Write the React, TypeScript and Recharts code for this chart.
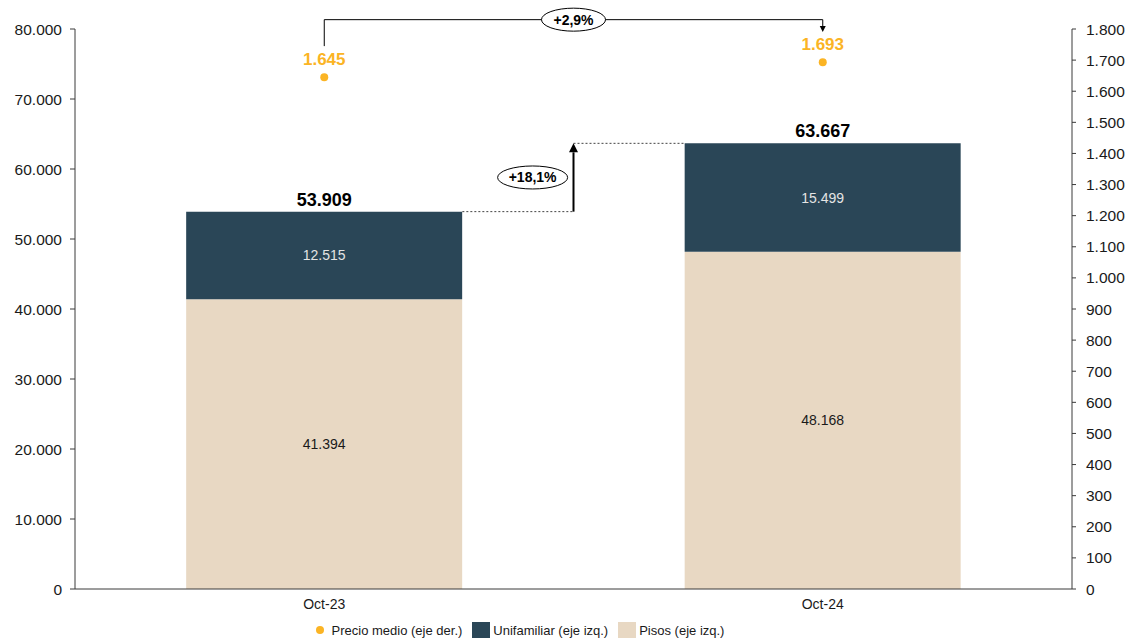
import {
  ComposedChart,
  Bar,
  Line,
  XAxis,
  YAxis,
  LabelList,
  Legend,
  ReferenceLine,
  ReferenceDot,
} from 'recharts';

const periods = ['Oct-23', 'Oct-24'];
const pisos = [41394, 48168];
const unifamiliar = [12515, 15499];
const precioMedio = [1645, 1693];

const leftTicks = [0, 10000, 20000, 30000, 40000, 50000, 60000, 70000, 80000];
const rightTicks = [
  0, 100, 200, 300, 400, 500, 600, 700, 800, 900, 1000, 1100, 1200, 1300, 1400, 1500, 1600, 1700, 1800,
];

const variacionViviendas = '+18,1%';
const variacionPrecio = '+2,9%';

const legendItems = [
  { label: 'Precio medio (eje der.)', kind: 'dot', key: 'precio' },
  { label: 'Unifamiliar (eje izq.)', kind: 'square', key: 'unifamiliar' },
  { label: 'Pisos (eje izq.)', kind: 'square', key: 'pisos' },
];

const data = periods.map((period, i) => ({
  period,
  pisos: pisos[i],
  unifamiliar: unifamiliar[i],
  total: pisos[i] + unifamiliar[i],
  precio: precioMedio[i],
}));

const c = {
  pisos: '#E8D8C3',
  unifamiliar: '#2A4657',
  precio: '#FBB424',
  text: '#1a1a1a',
  axis: '#3a3a3a',
  innerLight: '#E4E4E4',
};

const FONT = '"Liberation Sans", Arial, sans-serif';

// hidden numeric x axis runs 0..1 across the plot; each category takes an equal band
const BAR_FRACTION = 0.554;
const band = 1 / periods.length;
const center = (i: number) => (i + 0.5) * band;
const BAR_EDGE_0 = center(0) + (BAR_FRACTION * band) / 2;
const BAR_EDGE_1 = center(1) - (BAR_FRACTION * band) / 2;
const MID = band;

// bracket over the price points (right axis units)
const BRACKET_TOP = 1830;
const BRACKET_START = 1745;
const BRACKET_END = 1790;

const fmt = (v: number) => String(v).replace(/\B(?=(\d{3})+(?!\d))/g, '.');

const colorOf = (key: string) => (c as any)[key];

function ArrowLine(props: any, width: number, head: number) {
  const { x1, y1, x2, y2 } = props;
  const ang = Math.atan2(y2 - y1, x2 - x1);
  const bx = x2 - head * Math.cos(ang);
  const by = y2 - head * Math.sin(ang);
  const w = head * 0.5;
  const px = -Math.sin(ang) * w;
  const py = Math.cos(ang) * w;
  return (
    <g>
      <line x1={x1} y1={y1} x2={bx} y2={by} stroke="#000" strokeWidth={width} />
      <polygon points={`${x2},${y2} ${bx + px},${by + py} ${bx - px},${by - py}`} fill="#000" />
    </g>
  );
}

function EllipseTag(props: any, text: string, rx: number) {
  const { cx, cy } = props;
  return (
    <g>
      <ellipse cx={cx} cy={cy} rx={rx} ry={11.5} fill="#fff" stroke="#000" strokeWidth={1} />
      <text
        x={cx}
        y={cy}
        textAnchor="middle"
        dominantBaseline="central"
        fontFamily={FONT}
        fontWeight={700}
        fontSize={14}
        fill="#000"
      >
        {text}
      </text>
    </g>
  );
}

function LegendContent() {
  return (
    <div
      style={{
        display: 'flex',
        justifyContent: 'center',
        alignItems: 'center',
        fontFamily: FONT,
        fontSize: 13,
        color: c.text,
        paddingRight: 78,
        paddingTop: 3,
      }}
    >
      {legendItems.map((item) => (
        <div key={item.key} style={{ display: 'flex', alignItems: 'center', marginRight: 10 }}>
          {item.kind === 'dot' ? (
            <span
              style={{
                width: 8,
                height: 8,
                borderRadius: 4,
                background: colorOf(item.key),
                marginRight: 8,
              }}
            />
          ) : (
            <span style={{ width: 18, height: 16, background: colorOf(item.key), marginRight: 3 }} />
          )}
          <span>{item.label}</span>
        </div>
      ))}
    </div>
  );
}

export default function App() {
  return (
    <div style={{ width: 1128, height: 643, background: '#fff' }}>
      <style>{'body{margin:0}'}</style>
      <ComposedChart
        width={1128}
        height={643}
        data={data}
        margin={{ top: 29, right: 0, bottom: 0, left: 0 }}
        barCategoryGap={`${((1 - BAR_FRACTION) / 2) * 100}%`}
        style={{ fontFamily: FONT }}
      >
        <XAxis
          xAxisId="cat"
          dataKey="period"
          tickLine={false}
          tickSize={0}
          tickMargin={10}
          height={30}
          axisLine={{ stroke: c.axis }}
          tick={{ fill: c.text, fontSize: 14, fontFamily: FONT }}
        />
        <XAxis xAxisId="num" type="number" scale="linear" domain={[0, 1]} allowDataOverflow hide />
        <YAxis
          yAxisId="left"
          domain={[0, 80000]}
          ticks={leftTicks}
          width={75}
          tickSize={5}
          tickMargin={8}
          axisLine={{ stroke: c.axis }}
          tickLine={{ stroke: c.axis }}
          tickFormatter={fmt}
          tick={{ fill: c.text, fontSize: 15.5, fontFamily: FONT }}
          interval={0}
        />
        <YAxis
          yAxisId="right"
          orientation="right"
          domain={[0, 1800]}
          ticks={rightTicks}
          width={56}
          tickSize={4}
          tickMargin={10}
          axisLine={{ stroke: c.axis }}
          tickLine={{ stroke: c.axis }}
          tickFormatter={fmt}
          tick={{ fill: c.text, fontSize: 15.5, fontFamily: FONT }}
          interval={0}
        />
        <Legend verticalAlign="bottom" height={24} content={LegendContent} />

        <Bar xAxisId="cat" yAxisId="left" dataKey="pisos" stackId="v" fill={c.pisos} isAnimationActive={false}>
          <LabelList
            dataKey="pisos"
            position="center"
            formatter={(v: any) => fmt(Number(v))}
            fill={c.text}
            fontSize={14}
            fontFamily={FONT}
          />
        </Bar>
        <Bar
          xAxisId="cat"
          yAxisId="left"
          dataKey="unifamiliar"
          stackId="v"
          fill={c.unifamiliar}
          isAnimationActive={false}
        >
          <LabelList
            dataKey="unifamiliar"
            position="center"
            formatter={(v: any) => fmt(Number(v))}
            fill={c.innerLight}
            fontSize={14}
            fontFamily={FONT}
          />
          <LabelList
            dataKey="total"
            position="top"
            offset={6}
            formatter={(v: any) => fmt(Number(v))}
            fill="#000"
            fontSize={18}
            fontWeight={700}
            fontFamily={FONT}
          />
        </Bar>
        <Line
          xAxisId="cat"
          yAxisId="right"
          dataKey="precio"
          stroke="none"
          dot={{ r: 4, fill: c.precio, stroke: 'none' }}
          activeDot={false}
          isAnimationActive={false}
        >
          <LabelList
            dataKey="precio"
            position="top"
            offset={12}
            formatter={(v: any) => fmt(Number(v))}
            fill={c.precio}
            fontSize={17}
            fontWeight={700}
            fontFamily={FONT}
          />
        </Line>

        {/* variación viviendas */}
        <ReferenceLine
          xAxisId="num"
          yAxisId="left"
          segment={[
            { x: BAR_EDGE_0, y: data[0].total },
            { x: MID, y: data[0].total },
          ]}
          stroke="#444"
          strokeDasharray="2 2"
          ifOverflow="visible"
        />
        <ReferenceLine
          xAxisId="num"
          yAxisId="left"
          segment={[
            { x: MID, y: data[1].total },
            { x: BAR_EDGE_1, y: data[1].total },
          ]}
          stroke="#444"
          strokeDasharray="2 2"
          ifOverflow="visible"
        />
        <ReferenceLine
          xAxisId="num"
          yAxisId="left"
          segment={[
            { x: MID, y: data[0].total },
            { x: MID, y: data[1].total },
          ]}
          shape={(p: any) => ArrowLine(p, 2, 9)}
          ifOverflow="visible"
        />
        <ReferenceDot
          xAxisId="num"
          yAxisId="left"
          x={MID - 0.041}
          y={(data[0].total + data[1].total) / 2}
          ifOverflow="visible"
          shape={(p: any) => EllipseTag(p, variacionViviendas, 35)}
        />

        {/* variación precio */}
        <ReferenceLine
          xAxisId="num"
          yAxisId="right"
          segment={[
            { x: center(0), y: BRACKET_START },
            { x: center(0), y: BRACKET_TOP },
          ]}
          stroke="#000"
          ifOverflow="visible"
        />
        <ReferenceLine
          xAxisId="num"
          yAxisId="right"
          segment={[
            { x: center(0), y: BRACKET_TOP },
            { x: center(1), y: BRACKET_TOP },
          ]}
          stroke="#000"
          ifOverflow="visible"
        />
        <ReferenceLine
          xAxisId="num"
          yAxisId="right"
          segment={[
            { x: center(1), y: BRACKET_TOP },
            { x: center(1), y: BRACKET_END },
          ]}
          shape={(p: any) => ArrowLine(p, 1, 6)}
          ifOverflow="visible"
        />
        <ReferenceDot
          xAxisId="num"
          yAxisId="right"
          x={MID}
          y={BRACKET_TOP}
          ifOverflow="visible"
          shape={(p: any) => EllipseTag(p, variacionPrecio, 32)}
        />
      </ComposedChart>
    </div>
  );
}
